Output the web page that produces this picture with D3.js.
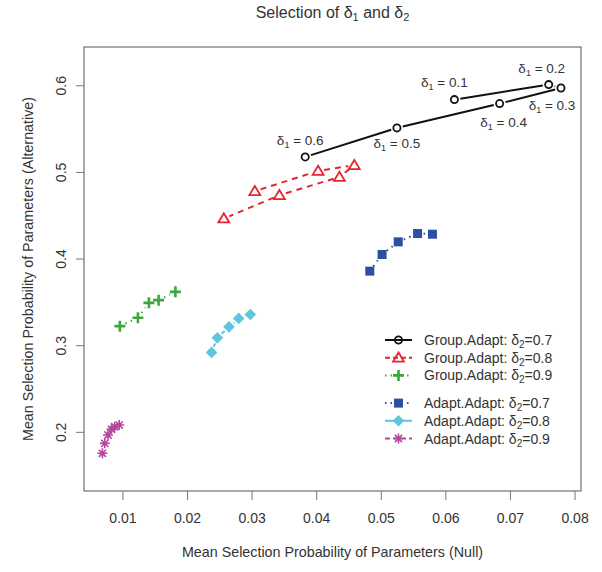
<!DOCTYPE html>
<html>
<head>
<meta charset="utf-8">
<script src="https://cdn.jsdelivr.net/npm/d3@7"></script>
<style>
  body { margin: 0; background: #fff; }
  text { font-family: "Liberation Sans", Arial, Helvetica, sans-serif; fill: #333; }
</style>
</head>
<body>
<svg id="chart"></svg>
<script>
// values, ordered by delta1 = 0.1 ... 0.6
const delta1Labels = ['0.1', '0.2', '0.3', '0.4', '0.5', '0.6'];

const groupX07 = [0.0614, 0.0760, 0.0779, 0.0684, 0.0525, 0.0383];
const groupY07 = [0.5835, 0.6008, 0.5969, 0.5789, 0.5508, 0.5173];

const groupX08 = [0.0305, 0.0403, 0.0459, 0.0436, 0.0343, 0.0257];
const groupY08 = [0.4777, 0.5012, 0.5077, 0.4942, 0.4731, 0.4462];

const groupX09 = [0.0096, 0.0124, 0.0141, 0.0156, 0.0182];
const groupY09 = [0.3220, 0.3316, 0.3489, 0.3520, 0.3616];

const adaptX07 = [0.0483, 0.0502, 0.0527, 0.0557, 0.0580];
const adaptY07 = [0.3855, 0.4047, 0.4193, 0.4289, 0.4281];

const adaptX08 = [0.0238, 0.0247, 0.0265, 0.0280, 0.0298];
const adaptY08 = [0.2917, 0.3085, 0.3212, 0.3309, 0.3355];

const adaptX09 = [0.0069, 0.00726, 0.00777, 0.0083, 0.0088, 0.0095];
const adaptY09 = [0.1752, 0.1867, 0.1963, 0.2029, 0.2059, 0.2078];

const methodNames = ['Group.Adapt', 'Group.Adapt', 'Group.Adapt', 'Adapt.Adapt', 'Adapt.Adapt', 'Adapt.Adapt'];
const delta2Values = ['0.7', '0.8', '0.9', '0.7', '0.8', '0.9'];

const xTicks = [0.01, 0.02, 0.03, 0.04, 0.05, 0.06, 0.07, 0.08];
const yTicks = [0.2, 0.3, 0.4, 0.5, 0.6];

const width = 602;
const height = 572;
const margin = {top: 47, right: 21, bottom: 81, left: 84};

const svg = d3.select('#chart')
    .attr('width', width)
    .attr('height', height);

const xScale = d3.scaleLinear()
    .domain([0.00405, 0.0810])
    .range([margin.left, width - margin.right]);

const yScale = d3.scaleLinear()
    .domain([0.1317, 0.6442])
    .range([height - margin.bottom, margin.top]);

const styles = [
  {color: '#111111', dash: null, shape: 'circle'},
  {color: '#e3262e', dash: '6,5', shape: 'triangle'},
  {color: '#3aa93a', dash: '1.5,4.5', shape: 'plus'},
  {color: '#2c4fa3', dash: '1.5,4.5', shape: 'square'},
  {color: '#5ec6dc', dash: null, shape: 'diamond'},
  {color: '#b3479f', dash: '6,5', shape: 'asterisk'}
];

const seriesX = [groupX07, groupX08, groupX09, adaptX07, adaptX08, adaptX09];
const seriesY = [groupY07, groupY08, groupY09, adaptY07, adaptY08, adaptY09];

const series = seriesX.map((xs, i) => ({
  name: methodNames[i],
  delta2: delta2Values[i],
  style: styles[i],
  points: xs.map((x, j) => ({x: x, y: seriesY[i][j]}))
}));

function drawSymbol(g, shape, color, cx, cy) {
  if (shape === 'circle') {
    g.append('circle')
        .attr('cx', cx).attr('cy', cy).attr('r', 3.6)
        .attr('fill', 'none').attr('stroke', color).attr('stroke-width', 1.8);
  } else if (shape === 'triangle') {
    const s = 5.2;
    g.append('path')
        .attr('d', `M${cx},${cy - s}L${cx + s * 1.05},${cy + s * 0.75}L${cx - s * 1.05},${cy + s * 0.75}Z`)
        .attr('fill', 'none').attr('stroke', color).attr('stroke-width', 1.8);
  } else if (shape === 'plus') {
    const s = 5.5;
    g.append('path')
        .attr('d', `M${cx - s},${cy}H${cx + s}M${cx},${cy - s}V${cy + s}`)
        .attr('stroke', color).attr('stroke-width', 2.6);
  } else if (shape === 'square') {
    g.append('rect')
        .attr('x', cx - 4.5).attr('y', cy - 4.5).attr('width', 9).attr('height', 9)
        .attr('fill', color);
  } else if (shape === 'diamond') {
    const s = 5.8;
    g.append('path')
        .attr('d', `M${cx},${cy - s}L${cx + s},${cy}L${cx},${cy + s}L${cx - s},${cy}Z`)
        .attr('fill', color);
  } else if (shape === 'asterisk') {
    const s = 5, d = 3.6;
    g.append('path')
        .attr('d', `M${cx - s},${cy}H${cx + s}M${cx},${cy - s}V${cy + s}` +
                   `M${cx - d},${cy - d}L${cx + d},${cy + d}M${cx - d},${cy + d}L${cx + d},${cy - d}`)
        .attr('stroke', color).attr('stroke-width', 1.6);
  }
}

// plot box
svg.append('rect')
    .attr('x', margin.left)
    .attr('y', margin.top)
    .attr('width', width - margin.left - margin.right)
    .attr('height', height - margin.top - margin.bottom)
    .attr('fill', 'none')
    .attr('stroke', '#555')
    .attr('stroke-width', 1);

// axes
const xAxis = svg.append('g')
    .attr('transform', `translate(0,${height - margin.bottom})`)
    .call(d3.axisBottom(xScale).tickValues(xTicks).tickSize(9).tickPadding(13).tickFormat(d3.format('.2f')));

const yAxis = svg.append('g')
    .attr('transform', `translate(${margin.left},0)`)
    .call(d3.axisLeft(yScale).tickValues(yTicks).tickSize(8).tickFormat(d3.format('.1f')));

[xAxis, yAxis].forEach((ax) => {
  ax.select('.domain').remove();
  ax.selectAll('line').attr('stroke', '#777');
  ax.selectAll('text')
      .style('font-size', '14px')
      .attr('fill', '#333');
});

yAxis.selectAll('.tick text')
    .attr('x', 0)
    .attr('dy', 0)
    .attr('text-anchor', 'middle')
    .attr('transform', 'translate(-18,0) rotate(-90)')
    .attr('y', 0);

// axis titles
svg.append('text')
    .attr('x', (margin.left + width - margin.right) / 2)
    .attr('y', 557)
    .attr('text-anchor', 'middle')
    .style('font-size', '14.3px')
    .text('Mean Selection Probability of Parameters (Null)');

svg.append('text')
    .attr('transform', `translate(33,${(margin.top + height - margin.bottom) / 2}) rotate(-90)`)
    .attr('text-anchor', 'middle')
    .style('font-size', '14.3px')
    .text('Mean Selection Probability of Parameters (Alternative)');

// title
const title = svg.append('text')
    .attr('x', (margin.left + width - margin.right) / 2)
    .attr('y', 18)
    .attr('text-anchor', 'middle')
    .style('font-size', '16px');
title.append('tspan').text('Selection of δ');
title.append('tspan').attr('dy', 3).style('font-size', '11px').text('1');
title.append('tspan').attr('dy', -3).text(' and δ');
title.append('tspan').attr('dy', 3).style('font-size', '11px').text('2');

// lines with gaps around the points, then the points
const gap = 6;
series.forEach((s) => {
  const g = svg.append('g');
  const pts = s.points.map((p) => [xScale(p.x), yScale(p.y)]);
  for (let i = 0; i < pts.length - 1; i++) {
    const [x1, y1] = pts[i];
    const [x2, y2] = pts[i + 1];
    const len = Math.hypot(x2 - x1, y2 - y1);
    if (len <= 2 * gap) continue;
    const ux = (x2 - x1) / len, uy = (y2 - y1) / len;
    g.append('line')
        .attr('x1', x1 + ux * gap).attr('y1', y1 + uy * gap)
        .attr('x2', x2 - ux * gap).attr('y2', y2 - uy * gap)
        .attr('stroke', s.style.color)
        .attr('stroke-width', 2)
        .attr('stroke-dasharray', s.style.dash);
  }
  pts.forEach(([cx, cy]) => drawSymbol(g, s.style.shape, s.style.color, cx, cy));
});

// delta1 labels next to the first series
const labelOffsets = [[-10, -17], [-7, -16], [-9, 18], [4, 19], [0, 16], [-5, -16]];
series[0].points.forEach((p, i) => {
  const t = svg.append('text')
      .attr('x', xScale(p.x) + labelOffsets[i][0])
      .attr('y', yScale(p.y) + labelOffsets[i][1] + 4.5)
      .attr('text-anchor', 'middle')
      .style('font-size', '13.5px');
  t.append('tspan').text('δ');
  t.append('tspan').attr('dy', 3).style('font-size', '9px').text('1');
  t.append('tspan').attr('dy', -3).text(' = ' + delta1Labels[i]);
});

// legend
const legend = svg.append('g');
series.forEach((s, i) => {
  const y = 340 + i * 17.7 + (i >= 3 ? 10 : 0);
  legend.append('line')
      .attr('x1', 385).attr('x2', 412)
      .attr('y1', y).attr('y2', y)
      .attr('stroke', s.style.color)
      .attr('stroke-width', 2)
      .attr('stroke-dasharray', s.style.dash ? (s.style.dash === '6,5' ? '5,3' : '1.5,4') : null);
  drawSymbol(legend, s.style.shape, s.style.color, 398.5, y);
  const t = legend.append('text')
      .attr('x', 424)
      .attr('y', y + 5)
      .style('font-size', '14px');
  t.append('tspan').text(s.name + ': δ');
  t.append('tspan').attr('dy', 3).style('font-size', '10px').text('2');
  t.append('tspan').attr('dy', -3).text('=' + s.delta2);
});
</script>
</body>
</html>
